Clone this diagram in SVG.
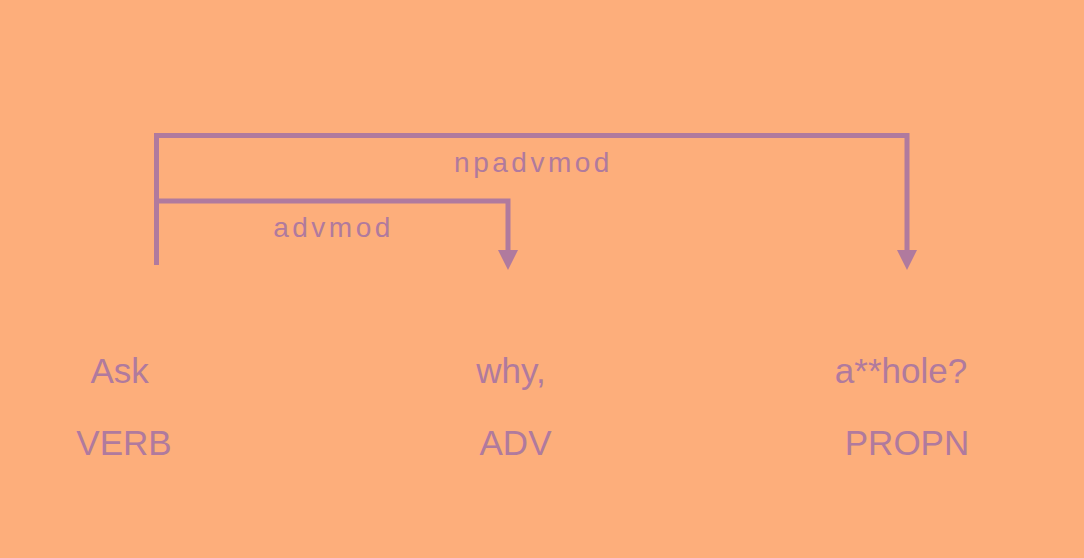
<svg xmlns="http://www.w3.org/2000/svg" width="1084" height="558" viewBox="0 0 1084 558">
<style>
.bg{fill:#FDAE7B}
.arc{fill:none;stroke:#B07A9E;stroke-width:5}
.head{fill:#B07A9E}
.lbl{font-family:"Liberation Sans",Arial,sans-serif;font-size:28px;letter-spacing:3.5px;fill:#B07A9E;text-anchor:middle}
.word{font-family:"Liberation Sans",Arial,sans-serif;font-size:35px;fill:#B07A9E;text-anchor:middle}
</style>
<rect class="bg" x="0" y="0" width="1084" height="558"/>
<g id="connectors">
<path class="arc" d="M156.5,265 V135.5 H907 V252"/>
<polygon class="head" points="897,250 917,250 907,270"/>
<path class="arc" d="M156.5,201 H508 V252"/>
<polygon class="head" points="498,250 518,250 508,270"/>
<text class="lbl" x="533.5" y="171.5">npadvmod</text>
<text class="lbl" x="333.5" y="236.5">advmod</text>
</g>
<g id="node-ask">
<text class="word" x="119.7" y="382.7">Ask</text>
<text class="word" x="124" y="455">VERB</text>
</g>
<g id="node-why">
<text class="word" x="511" y="382.7">why,</text>
<text class="word" x="515.5" y="455">ADV</text>
</g>
<g id="node-ahole">
<text class="word" x="901" y="382.7">a**hole?</text>
<text class="word" x="907" y="455">PROPN</text>
</g>
</svg>
